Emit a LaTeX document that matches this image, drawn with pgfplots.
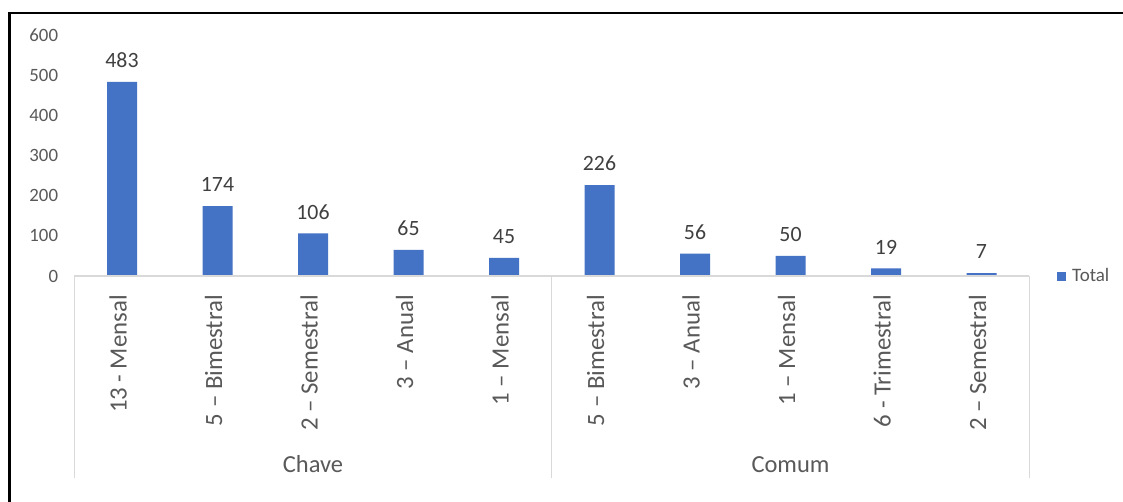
\documentclass[border=0pt]{standalone}
\usepackage{pgfplots}
\pgfplotsset{compat=1.18}
\usepackage{fontspec}
\setmainfont{Carlito}
\definecolor{barblue}{HTML}{4472C4}
\definecolor{txtgray}{HTML}{595959}
\definecolor{lblgray}{HTML}{404040}
\definecolor{axgray}{HTML}{D9D9D9}
\begin{document}
\begin{tikzpicture}
\path[use as bounding box] (0,0) rectangle (1123pt,501pt);
\fill[white] (0,0) rectangle (1123pt,501pt);
\draw[line width=2.5pt] (9.5pt,-2pt) -- (9.5pt,488pt) -- (1125pt,488pt);
\begin{axis}[
  at={(122pt,225pt)}, anchor=origin,
  x=95.5pt, y=0.40167pt,
  xmin=-0.5, xmax=9.5, ymin=0, ymax=600,
  ybar, bar width=30pt,
  axis line style={draw=none},
  major tick length=0pt,
  clip=false,
  xtick={0,1,2,3,4,5,6,7,8,9},
  xticklabels={13 - Mensal, 5 – Bimestral, 2 – Semestral, 3 – Anual, 1 – Mensal, 5 – Bimestral, 3 – Anual, 1 – Mensal, 6 - Trimestral, 2 – Semestral},
  xticklabel style={rotate=90, anchor=east, inner sep=0pt, yshift=4pt, font=\fontsize{24.8}{26}\selectfont, text=txtgray},
  xticklabel shift=19pt,
  ytick={0,100,200,300,400,500,600},
  yticklabel style={anchor=east, inner sep=0pt, font=\fontsize{18.8}{20}\selectfont, text=txtgray},
  yticklabel shift=16pt,
  /pgf/number format/assume math mode=true,
  nodes near coords,
  nodes near coords style={font=\fontsize{21.8}{23}\selectfont, text=lblgray, anchor=south, inner sep=0pt, yshift=14pt},
  legend style={at={(1.029,0)}, anchor=west, draw=none, fill=none, inner sep=0pt, font=\fontsize{19}{20}\selectfont, text=txtgray, nodes={inner sep=2pt}},
  legend image code/.code={\fill[barblue] (0pt,-4.5pt) rectangle (9pt,4.5pt); \path (13pt,0pt);},
]
\addplot[fill=barblue, draw=none] coordinates {(0,483) (1,174) (2,106) (3,65) (4,45) (5,226) (6,56) (7,50) (8,19) (9,7)};
\addlegendentry{Total}
\draw[axgray, line width=1.2pt] (axis cs:-0.5,0) -- (axis cs:9.5,0);
\draw[axgray, line width=1.2pt] (axis cs:-0.5,0) -- ++(0pt,-202pt);
\draw[axgray, line width=1.2pt] (axis cs:4.5,0) -- ++(0pt,-202pt);
\draw[axgray, line width=1.2pt] (axis cs:9.5,0) -- ++(0pt,-202pt);
\node[anchor=base, text=txtgray, font=\fontsize{24.5}{26}\selectfont] at ([yshift=-196pt]axis cs:2,0) {Chave};
\node[anchor=base, text=txtgray, font=\fontsize{24.5}{26}\selectfont] at ([yshift=-196pt]axis cs:7,0) {Comum};
\end{axis}
\end{tikzpicture}
\end{document}
